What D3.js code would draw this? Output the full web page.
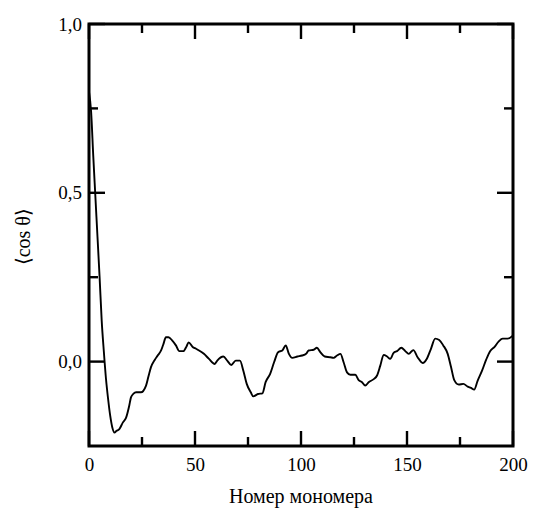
<!DOCTYPE html>
<html>
<head>
<meta charset="utf-8">
<script src="https://cdn.jsdelivr.net/npm/d3@7"></script>
<style>
body { margin: 0; background: #fff; }
</style>
</head>
<body>
<div id="chart"></div>
<script>
// monomer number and <cos theta>
var monomer = [0, 1, 2, 3, 4, 5, 6, 7, 8, 9, 10, 11, 12, 13, 14.3, 16, 17.5, 19, 19.8, 21, 22.2, 24.5, 26.9, 28, 29.2, 31, 32.4, 34, 35, 36.3, 37.5, 39.2, 41, 42.6, 44.5, 46, 47, 48.9, 50.5, 51.9, 54.2, 56.6, 59.3, 60.5, 63.4, 65.2, 67.1, 69.2, 71.2, 72.8, 74.4, 76.3, 77.5, 79.7, 81.8, 83.3, 85.4, 87.3, 89.2, 91.2, 92.8, 94.3, 95.9, 98.3, 100.5, 102.4, 103.6, 106, 107.5, 109.1, 111.2, 113.8, 115.4, 117, 118.6, 120.1, 121.7, 123.3, 125.6, 127.2, 128.8, 130.3, 131.9, 134.3, 135.8, 137.4, 139, 140.6, 142.1, 143.7, 145.3, 147.3, 149.2, 150.8, 153, 155, 157.4, 159.3, 161.3, 163.3, 165.2, 167.1, 169.2, 170.8, 172.3, 174.4, 176.6, 178.6, 180.2, 181.7, 183.3, 185.4, 187.3, 189.2, 191.2, 193.3, 195.1, 197.5, 199.9];
var cosTheta = [0.80, 0.74, 0.61, 0.49, 0.37, 0.25, 0.12, 0.03, -0.05, -0.11, -0.16, -0.195, -0.21, -0.205, -0.20, -0.18, -0.166, -0.13, -0.106, -0.095, -0.091, -0.091, -0.071, -0.045, -0.017, 0.005, 0.018, 0.033, 0.05, 0.072, 0.072, 0.063, 0.048, 0.031, 0.031, 0.045, 0.057, 0.043, 0.038, 0.033, 0.023, 0.008, -0.007, 0.003, 0.015, 0.003, -0.01, 0.003, 0.003, -0.027, -0.066, -0.091, -0.103, -0.096, -0.094, -0.061, -0.037, -0.002, 0.028, 0.033, 0.048, 0.023, 0.011, 0.015, 0.018, 0.023, 0.033, 0.035, 0.041, 0.028, 0.015, 0.013, 0.011, 0.018, 0.023, -0.002, -0.032, -0.039, -0.039, -0.055, -0.061, -0.071, -0.061, -0.052, -0.042, -0.012, 0.020, 0.015, 0.008, 0.026, 0.031, 0.041, 0.031, 0.023, 0.034, 0.013, -0.004, 0.008, 0.038, 0.068, 0.064, 0.048, 0.023, -0.017, -0.055, -0.068, -0.066, -0.074, -0.078, -0.083, -0.057, -0.027, 0.005, 0.031, 0.043, 0.060, 0.068, 0.068, 0.077];

var xMajor = [0, 50, 100, 150, 200];
var xMinor = [25, 75, 125, 175];
var yMajor = [0, 0.5, 1.0];
var yMinor = [0.25, 0.75];

var serif = "'Liberation Serif', 'Times New Roman', Times, serif";

var margin = {top: 24, right: 21, bottom: 64, left: 89},
    width = 534 - margin.left - margin.right,
    height = 510 - margin.top - margin.bottom;

var x = d3.scaleLinear().domain([0, 200]).range([0, width]);
var y = d3.scaleLinear().domain([-0.25, 1.0]).range([height, 0]);

var ru = d3.formatLocale({decimal: ",", thousands: " ", grouping: [3], currency: ["", ""]});
var fmt = ru.format(".1f");

var svg = d3.select("#chart").append("svg")
    .attr("width", 534)
    .attr("height", 510);

var g = svg.append("g")
    .attr("transform", "translate(" + margin.left + "," + margin.top + ")");

// labels from the axes, tick marks drawn by hand (inward, on all four sides)
function labelStyle(sel) {
    sel.attr("font-family", serif);
    sel.select(".domain").remove();
    sel.selectAll(".tick line").remove();
    sel.selectAll(".tick text").attr("font-family", serif).style("font-size", "19px");
}

g.append("g").call(d3.axisLeft(y).tickValues(yMajor).tickSize(0).tickPadding(7).tickFormat(fmt)).call(labelStyle);
g.append("g").attr("transform", "translate(0," + height + ")")
    .call(d3.axisBottom(x).tickValues(xMajor).tickSize(0).tickPadding(12).tickFormat(d3.format("d"))).call(labelStyle);

var ticks = g.append("g").attr("stroke", "#000").attr("stroke-width", 2.4);

function yTicks(vals, len) {
    ticks.selectAll(null).data(vals).enter().append("line")
        .attr("x1", 0).attr("x2", len)
        .attr("y1", function(d) { return y(d) }).attr("y2", function(d) { return y(d) });
    ticks.selectAll(null).data(vals).enter().append("line")
        .attr("x1", width).attr("x2", width - len)
        .attr("y1", function(d) { return y(d) }).attr("y2", function(d) { return y(d) });
}
function xTicks(vals, len) {
    ticks.selectAll(null).data(vals).enter().append("line")
        .attr("y1", height).attr("y2", height - len)
        .attr("x1", function(d) { return x(d) }).attr("x2", function(d) { return x(d) });
    ticks.selectAll(null).data(vals).enter().append("line")
        .attr("y1", 0).attr("y2", len)
        .attr("x1", function(d) { return x(d) }).attr("x2", function(d) { return x(d) });
}
yTicks(yMajor, 16);
yTicks(yMinor, 9);
xTicks(xMajor, 15);
xTicks(xMinor, 9);

var line = d3.line()
    .curve(d3.curveMonotoneX)
    .x(function(d, i) { return x(monomer[i]) })
    .y(function(d) { return y(d) });

g.append("path")
    .datum(cosTheta)
    .attr("d", line)
    .attr("fill", "none")
    .attr("stroke", "#000")
    .attr("stroke-width", 1.9)
    .attr("stroke-linejoin", "round");

g.append("rect")
    .attr("width", width)
    .attr("height", height)
    .attr("fill", "none")
    .attr("stroke", "#000")
    .attr("stroke-width", 3);

svg.append("text")
    .attr("text-anchor", "middle")
    .attr("font-family", serif)
    .attr("x", margin.left + width / 2)
    .attr("y", 503)
    .style("font-size", "20px")
    .text("Номер мономера");

svg.append("text")
    .attr("text-anchor", "middle")
    .attr("font-family", serif)
    .attr("transform", "translate(30," + (margin.top + y(0.37)) + ") rotate(-90)")
    .style("font-size", "20px")
    .text("⟨cos θ⟩");
</script>
</body>
</html>
